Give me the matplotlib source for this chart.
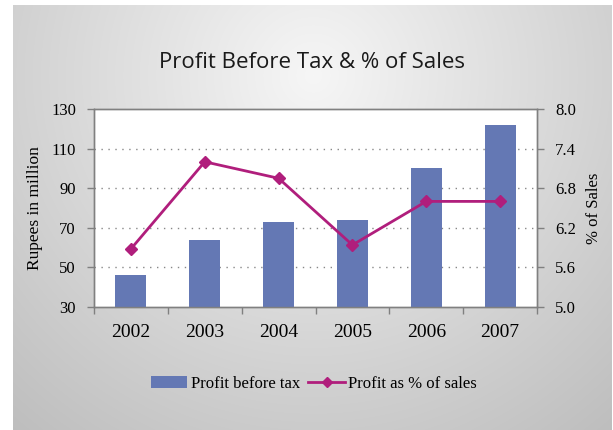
import numpy as np
import matplotlib
matplotlib.use("Agg")
import matplotlib.pyplot as plt
from matplotlib.lines import Line2D
from matplotlib.patches import Patch

years = ["2002", "2003", "2004", "2005", "2006", "2007"]
profit_before_tax = [46, 64, 73, 74, 100, 122]
profit_pct_sales = [5.88, 7.2, 6.95, 5.94, 6.6, 6.6]
left_ticks = [30, 50, 70, 90, 110, 130]
right_ticks = [5.0, 5.6, 6.2, 6.8, 7.4, 8.0]

bar_color = "#6478B4"
line_color = "#B01E7C"
serif = "Liberation Serif"

W, H = 613, 430
fig = plt.figure(figsize=(W / 100, H / 100), dpi=100)
fig.patch.set_facecolor("white")

# background radial gradient panel
bg = fig.add_axes([13 / W, 0, (612 - 13) / W, (430 - 5) / H], zorder=-10)
yy, xx = np.mgrid[0:425, 0:599]
cx, cy = 300, 70
d = np.sqrt(((xx - cx) / 420.0) ** 2 + ((yy - cy) / 420.0) ** 2)
val = 0.965 - 0.20 * np.clip(d, 0, 1.2)
bg.imshow(np.dstack([val, val, val]), aspect="auto", extent=[0, 1, 0, 1], origin="upper")
bg.set_axis_off()

ax = fig.add_axes([94 / W, (430 - 307) / H, (537 - 94) / W, (307 - 109) / H])
ax.set_facecolor("white")
x = np.arange(len(years))
ax.bar(x, profit_before_tax, width=0.42, color=bar_color, zorder=3, bottom=0)
ax.set_ylim(30, 130)
ax.set_xlim(-0.5, len(years) - 0.5)
ax.set_yticks(left_ticks)
ax.set_yticklabels([str(v) for v in left_ticks], fontfamily=serif, fontsize=12)
ax.set_xticks(x)
ax.set_xticklabels(years, fontfamily=serif, fontsize=14)
ax.tick_params(axis="x", length=0, pad=12)
ax.set_xticks(np.arange(-0.5, len(years), 1.0), minor=True)
ax.tick_params(axis="x", which="minor", length=5, direction="out", color="#808080", width=1)
ax.tick_params(axis="y", length=5, direction="out", color="#808080", width=1, pad=8)
for v in left_ticks[1:-1]:
    ax.axhline(v, color="#888888", lw=1.0, ls=(0, (1, 4)), zorder=1)
for s in ax.spines.values():
    s.set_color("#808080")
    s.set_linewidth(1.0)
ax.set_ylabel("Rupees in million", fontfamily=serif, fontsize=12.5, labelpad=6)

ax2 = ax.twinx()
ax2.plot(x, profit_pct_sales, color=line_color, lw=2, marker="D", markersize=6, zorder=5)
ax2.set_ylim(5.0, 8.0)
ax2.set_yticks(right_ticks)
ax2.set_yticklabels([f"{v:.1f}" for v in right_ticks], fontfamily=serif, fontsize=12)
ax2.tick_params(axis="y", length=5, direction="out", color="#808080", width=1, pad=8)
for s in ax2.spines.values():
    s.set_color("#808080")
    s.set_linewidth(1.0)
ax2.set_ylabel("% of Sales", fontfamily=serif, fontsize=12, labelpad=7)

fig.text(312 / W, 1 - 62 / H, "Profit Before Tax & % of Sales", ha="center", va="center",
         fontfamily="Open Sans", fontsize=16, color="#1a1a1a")

handles = [Patch(facecolor=bar_color, edgecolor="none"),
           Line2D([0], [0], color=line_color, lw=2, marker="D", markersize=5)]
fig.legend(handles, ["Profit before tax", "Profit as % of sales"], loc="center",
           bbox_to_anchor=(314 / W, 1 - 384 / H), ncol=2, frameon=False,
           prop={"family": serif, "size": 12}, handlelength=2.2, handletextpad=0.2,
           columnspacing=0.5)

fig.savefig("out.png", dpi=100)
